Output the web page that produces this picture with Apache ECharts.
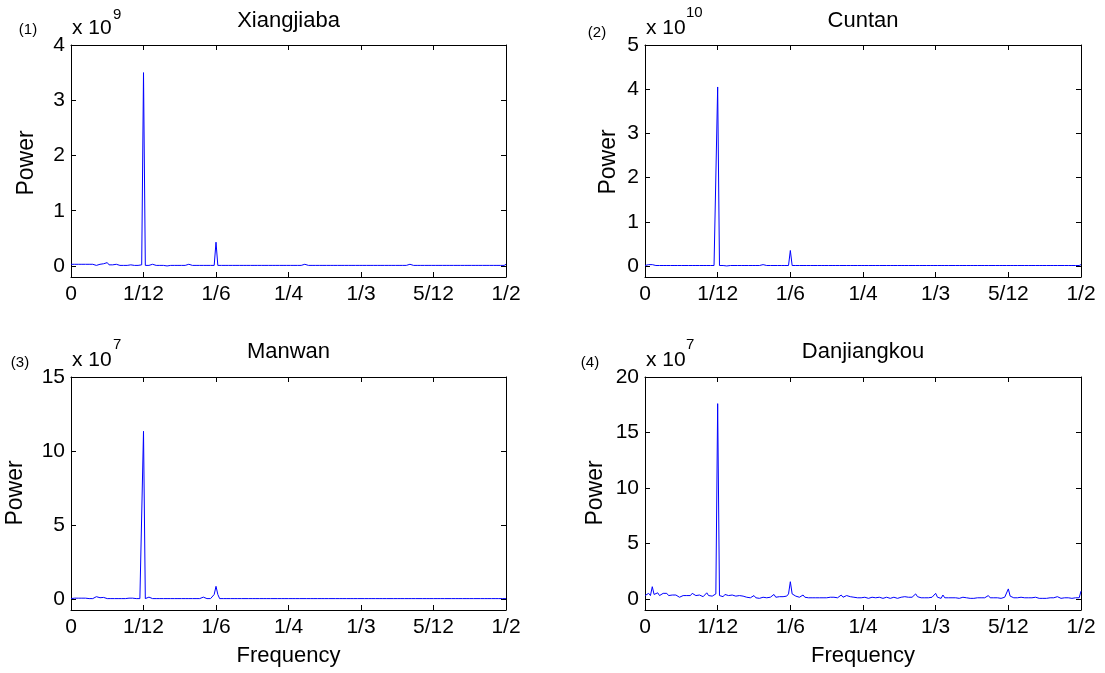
<!DOCTYPE html>
<html><head><meta charset="utf-8">
<script src="https://cdn.jsdelivr.net/npm/echarts@6/dist/echarts.min.js"></script>
<style>html,body{margin:0;padding:0;background:#fff}#c{width:1105px;height:673px}</style>
</head><body><div id="c"></div><script>
const xTickLabels=['0','1/12','1/6','1/4','1/3','5/12','1/2'];
const titles=['Xiangjiaba','Cuntan','Manwan','Danjiangkou'];
const panelTags=['(1)','(2)','(3)','(4)'];
const exponents=['9','10','7','7'];
const yMax=[4,5,15,20];
const yTicks=[[0,1,2,3,4],[0,1,2,3,4,5],[0,5,10,15],[0,5,10,15,20]];

// Power (x 1e9), frequencies evenly spaced 0..1/2
const xiangjiaba=[
0.03,0.02,0.03,0.01,0.03,0.02,0.03,0.01,0.03,0.02,
0.03,0.01,0.03,0.02,0.01,0.02,0.03,0.02,0.04,0.03,
0.06,0.02,0.01,0.02,0.01,0.03,0.02,0.01,0.03,0.01,
0.02,0.01,0.03,0.02,0.01,0.01,0.03,0.01,0.03,0.02,
3.5,0.01,0.01,0.01,0.01,0.03,0.01,0.01,0.01,0.01,
0.01,0.01,0.01,0.0,0.01,0.01,0.01,0.01,0.01,0.01,
0.03,0.01,0.01,0.01,0.01,0.03,0.01,0.01,0.01,0.01,
0.01,0.01,0.01,0.01,0.01,0.01,0.03,0.01,0.01,0.01,
0.43,0.01,0.01,0.01,0.01,0.01,0.01,0.01,0.01,0.01,
0.01,0.01,0.01,0.01,0.01,0.01,0.03,0.01,0.01,0.01,
0.03,0.01,0.01,0.01,0.01,0.01,0.01,0.01,0.01,0.01,
0.01,0.01,0.01,0.01,0.01,0.01,0.01,0.01,0.01,0.01,
0.01,0.01,0.01,0.01,0.01,0.01,0.01,0.01,0.01,0.03,
0.01,0.01,0.01,0.01,0.01,0.01,0.03,0.01,0.01,0.01,
0.01,0.01,0.01,0.01,0.01,0.01,0.01,0.01,0.01,0.01,
0.01,0.01,0.01,0.01,0.01,0.01,0.01,0.01,0.01,0.01,
0.02,0.01,0.01,0.01,0.01,0.01,0.01,0.01,0.01,0.01,
0.01,0.01,0.01,0.01,0.01,0.01,0.01,0.01,0.01,0.01,
0.01,0.01,0.01,0.01,0.01,0.01,0.01,0.03,0.01,0.01,
0.01,0.01,0.01,0.01,0.01,0.01,0.01,0.01,0.01,0.01,
0.02,0.01,0.01,0.01,0.01,0.01,0.01,0.01,0.01,0.01,
0.01,0.01,0.01,0.01,0.01,0.01,0.01,0.01,0.01,0.01,
0.01,0.01,0.01,0.01,0.01,0.01,0.01,0.01,0.01,0.01,
0.01,0.01,0.01,0.01,0.01,0.01,0.01,0.01,0.01,0.01,
0.03];

// Power (x 1e10)
const cuntan=[
0.01,0.02,0.03,0.02,0.03,0.02,0.01,0.01,0.01,0.01,
0.01,0.01,0.01,0.01,0.01,0.01,0.01,0.01,0.01,0.01,
0.01,0.01,0.01,0.01,0.01,0.01,0.01,0.01,0.01,0.0,
0.01,0.01,0.01,0.01,0.01,0.01,0.01,0.01,0.01,0.01,
4.05,0.01,0.01,0.01,0.01,0.0,0.01,0.01,0.01,0.01,
0.01,0.01,0.01,0.01,0.01,0.01,0.01,0.01,0.01,0.01,
0.01,0.01,0.01,0.01,0.01,0.03,0.0,0.01,0.01,0.01,
0.01,0.01,0.01,0.01,0.01,0.01,0.01,0.01,0.01,0.01,
0.35,0.01,0.01,0.01,0.01,0.01,0.01,0.01,0.01,0.01,
0.01,0.01,0.01,0.01,0.01,0.01,0.01,0.01,0.01,0.01,
0.01,0.01,0.01,0.01,0.01,0.01,0.01,0.01,0.01,0.01,
0.01,0.01,0.01,0.01,0.01,0.01,0.01,0.01,0.01,0.01,
0.01,0.01,0.01,0.01,0.01,0.01,0.01,0.01,0.01,0.01,
0.01,0.01,0.01,0.01,0.01,0.01,0.01,0.01,0.01,0.01,
0.01,0.01,0.01,0.01,0.01,0.01,0.01,0.01,0.01,0.01,
0.01,0.01,0.01,0.01,0.01,0.01,0.01,0.01,0.01,0.01,
0.0,0.01,0.01,0.01,0.01,0.01,0.01,0.01,0.01,0.01,
0.01,0.01,0.01,0.01,0.01,0.01,0.01,0.01,0.01,0.01,
0.01,0.01,0.01,0.01,0.01,0.01,0.01,0.01,0.01,0.01,
0.01,0.01,0.01,0.01,0.01,0.01,0.01,0.01,0.01,0.01,
0.03,0.01,0.01,0.01,0.01,0.01,0.01,0.01,0.01,0.01,
0.01,0.01,0.01,0.01,0.01,0.01,0.01,0.01,0.01,0.01,
0.01,0.01,0.01,0.01,0.01,0.01,0.01,0.01,0.01,0.01,
0.01,0.01,0.01,0.01,0.01,0.01,0.01,0.01,0.01,0.01,
0.03];

// Power (x 1e7)
const manwan=[
0.02,0.02,0.05,0.12,0.05,0.02,0.05,0.1,0.05,0.02,
0.02,0.02,0.02,0.05,0.15,0.13,0.08,0.12,0.1,0.02,
0.02,0.02,0.02,0.02,0.02,0.02,0.02,0.02,0.02,0.02,
0.02,0.02,0.05,0.12,0.05,0.02,0.02,0.02,0.02,0.02,
11.33,0.02,0.02,0.12,0.02,0.02,0.02,0.02,0.02,0.02,
0.02,0.02,0.02,0.02,0.02,0.02,0.02,0.02,0.02,0.02,
0.02,0.02,0.02,0.02,0.02,0.02,0.02,0.02,0.02,0.02,
0.02,0.02,0.05,0.12,0.05,0.02,0.02,0.02,0.02,0.3,
0.85,0.3,0.02,0.02,0.02,0.02,0.02,0.02,0.02,0.02,
0.02,0.02,0.02,0.02,0.02,0.02,0.02,0.02,0.02,0.02,
0.02,0.02,0.02,0.02,0.02,0.02,0.02,0.02,0.02,0.02,
0.02,0.02,0.02,0.02,0.02,0.02,0.02,0.02,0.02,0.02,
0.02,0.02,0.02,0.02,0.02,0.02,0.02,0.02,0.02,0.02,
0.02,0.02,0.02,0.02,0.02,0.02,0.02,0.02,0.02,0.02,
0.02,0.02,0.02,0.02,0.02,0.02,0.02,0.02,0.02,0.02,
0.02,0.02,0.02,0.02,0.02,0.02,0.02,0.02,0.02,0.02,
0.02,0.02,0.02,0.02,0.02,0.02,0.02,0.02,0.02,0.02,
0.02,0.02,0.02,0.02,0.02,0.02,0.02,0.02,0.02,0.02,
0.02,0.02,0.02,0.02,0.02,0.02,0.02,0.02,0.02,0.02,
0.02,0.02,0.02,0.02,0.02,0.02,0.02,0.02,0.02,0.02,
0.02,0.02,0.02,0.02,0.02,0.02,0.02,0.02,0.02,0.02,
0.02,0.02,0.02,0.02,0.02,0.02,0.02,0.02,0.02,0.02,
0.02,0.02,0.02,0.02,0.02,0.02,0.02,0.02,0.02,0.02,
0.02,0.02,0.02,0.02,0.02,0.02,0.02,0.02,0.02,0.02,
0.02];

// Power (x 1e7)
const danjiangkou=[
0.3,0.25,0.5,0.3,1.1,0.4,0.3,0.55,0.3,0.45,
0.5,0.35,0.5,0.3,0.25,0.35,0.2,0.35,0.3,0.15,
0.25,0.3,0.2,0.3,0.35,0.3,0.5,0.4,0.3,0.2,
0.35,0.45,0.2,0.3,0.55,0.3,0.4,0.25,0.3,0.45,
17.6,0.3,0.35,0.2,0.4,0.25,0.3,0.15,0.35,0.2,
0.25,0.3,0.3,0.2,0.25,0.3,0.15,0.1,0.1,0.15,
0.3,0.1,0.1,0.05,0.1,0.15,0.3,0.1,0.1,0.15,
0.2,0.4,0.15,0.1,0.2,0.35,0.2,0.3,0.25,0.45,
1.55,0.45,0.5,0.25,0.3,0.15,0.1,0.35,0.15,0.1,
0.1,0.1,0.1,0.1,0.1,0.1,0.1,0.1,0.1,0.05,
0.1,0.1,0.15,0.05,0.15,0.3,0.1,0.2,0.35,0.15,
0.25,0.3,0.45,0.2,0.1,0.15,0.1,0.1,0.1,0.1,
0.25,0.15,0.1,0.05,0.1,0.15,0.05,0.1,0.1,0.15,
0.1,0.05,0.1,0.15,0.1,0.05,0.1,0.15,0.1,0.05,
0.1,0.15,0.1,0.2,0.1,0.15,0.2,0.15,0.3,0.45,
0.2,0.3,0.1,0.05,0.1,0.05,0.1,0.1,0.15,0.2,
0.5,0.15,0.1,0.05,0.35,0.1,0.05,0.1,0.15,0.1,
0.05,0.1,0.1,0.05,0.1,0.15,0.05,0.1,0.1,0.05,
0.1,0.05,0.1,0.1,0.05,0.1,0.15,0.1,0.1,0.3,
0.1,0.05,0.1,0.15,0.1,0.1,0.05,0.1,0.15,0.1,
0.9,0.25,0.3,0.1,0.15,0.1,0.05,0.15,0.25,0.1,
0.2,0.1,0.05,0.1,0.1,0.15,0.1,0.05,0.1,0.05,
0.1,0.05,0.1,0.1,0.05,0.1,0.05,0.2,0.1,0.05,
0.2,0.1,0.05,0.1,0.15,0.05,0.1,0.1,0.05,0.1,
0.7];

const seriesValues=[xiangjiaba,cuntan,manwan,danjiangkou];

const FONT="'Liberation Sans', Arial, Helvetica, sans-serif";
const grids=[
 {left:71,top:45,width:435,height:232},
 {left:645,top:45,width:436,height:232},
 {left:71,top:377,width:435,height:233},
 {left:645,top:377,width:436,height:233}
];
const axisLineStyle={show:true,onZero:false,lineStyle:{color:'#000',width:1}};
const tickStyle={show:true,inside:true,length:5,lineStyle:{color:'#000',width:1}};
const xAxes=[],yAxes=[],series=[];
grids.forEach((g,p)=>{
  xAxes.push({gridIndex:p,type:'value',min:0,max:6,interval:1,position:'bottom',
    axisLine:axisLineStyle,axisTick:tickStyle,splitLine:{show:false},
    axisLabel:{formatter:v=>xTickLabels[Math.round(v)],fontSize:21,color:'#000',margin:7,fontFamily:FONT}});
  xAxes.push({gridIndex:p,type:'value',min:0,max:6,interval:1,position:'top',
    axisLine:axisLineStyle,axisTick:tickStyle,splitLine:{show:false},axisLabel:{show:false}});
  const ymin=-0.05*yMax[p];
  yAxes.push({gridIndex:p,type:'value',min:ymin,max:yMax[p],position:'left',
    axisLine:axisLineStyle,splitLine:{show:false},
    axisTick:Object.assign({},tickStyle,{customValues:yTicks[p]}),
    axisLabel:{customValues:yTicks[p],fontSize:21,color:'#000',margin:6,fontFamily:FONT}});
  yAxes.push({gridIndex:p,type:'value',min:ymin,max:yMax[p],position:'right',
    axisLine:axisLineStyle,splitLine:{show:false},
    axisTick:Object.assign({},tickStyle,{customValues:yTicks[p]}),
    axisLabel:{show:false}});
  const vals=seriesValues[p];
  series.push({type:'line',xAxisIndex:2*p,yAxisIndex:2*p,showSymbol:false,symbol:'none',
    lineStyle:{color:'#0000ff',width:1},animation:false,
    data:vals.map((v,i)=>[i*6/(vals.length-1),v])});
});

const titlePos=[[288.5,21],[863,21],[288.5,352],[863,352]];
const tagPos=[[28,30],[597,33],[20,363],[590,363]];
const expBase=[[72,28],[646,28],[72,360],[646,360]];
const expSup=[[113,15],[686,13],[113,345],[686,345]];
const powerPos=[[27,163],[609,162],[16,493],[596,493]];
const freqPos=[[288.5,656],[863,656]];
const graphic=[];
for(let p=0;p<4;p++){
  graphic.push({type:'text',x:titlePos[p][0],y:titlePos[p][1],style:{text:titles[p],font:'22px '+FONT,fill:'#000',align:'center',verticalAlign:'middle'}});
  graphic.push({type:'text',x:tagPos[p][0],y:tagPos[p][1],style:{text:panelTags[p],font:'15px '+FONT,fill:'#000',align:'center',verticalAlign:'middle'}});
  graphic.push({type:'text',x:expBase[p][0],y:expBase[p][1],style:{text:'x 10',font:'21px '+FONT,fill:'#000',align:'left',verticalAlign:'middle'}});
  graphic.push({type:'text',x:expSup[p][0],y:expSup[p][1],style:{text:exponents[p],font:'15px '+FONT,fill:'#000',align:'left',verticalAlign:'middle'}});
  graphic.push({type:'text',x:powerPos[p][0],y:powerPos[p][1],rotation:Math.PI/2,style:{text:'Power',font:'23px '+FONT,fill:'#000',align:'center',verticalAlign:'middle'}});
}
freqPos.forEach(f=>graphic.push({type:'text',x:f[0],y:f[1],style:{text:'Frequency',font:'22px '+FONT,fill:'#000',align:'center',verticalAlign:'middle'}}));

const chart=echarts.init(document.getElementById('c'),null,{renderer:'canvas'});
chart.setOption({animation:false,backgroundColor:'#fff',grid:grids,xAxis:xAxes,yAxis:yAxes,series:series,graphic:graphic});
</script></body></html>
